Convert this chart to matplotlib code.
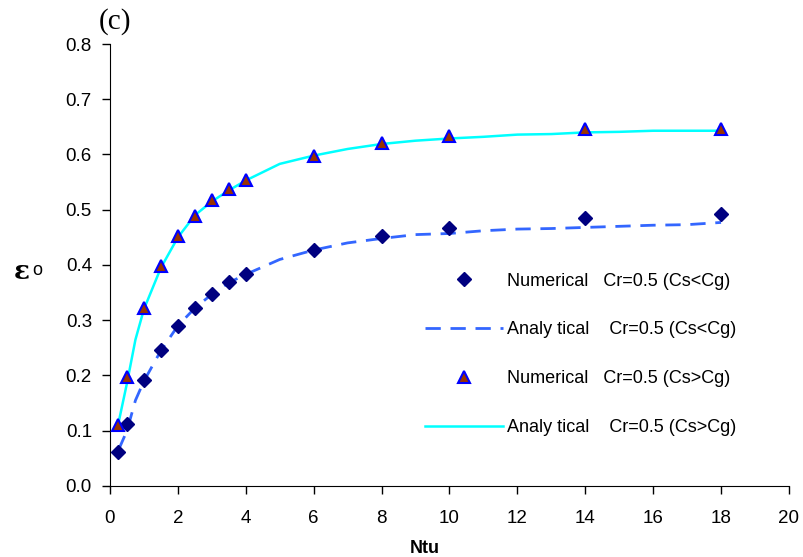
import matplotlib
matplotlib.use("Agg")
import matplotlib.pyplot as plt

# numerical results (markers)
ntu_num = [0.25, 0.5, 1, 1.5, 2, 2.5, 3, 3.5, 4, 6, 8, 10, 14, 18]
eps_num_lt = [0.062, 0.112, 0.192, 0.246, 0.290, 0.322, 0.347, 0.370, 0.384,
              0.428, 0.452, 0.467, 0.485, 0.492]
eps_num_gt = [0.111, 0.198, 0.322, 0.398, 0.452, 0.488, 0.518, 0.538, 0.553,
              0.598, 0.621, 0.633, 0.647, 0.647]

# analytical curves
ntu_an = [0.25, 0.5, 0.75, 1, 1.5, 2, 2.5, 3, 3.5, 4, 5, 6, 7, 8, 9, 10,
          11, 12, 13, 14, 15, 16, 17, 18]
eps_an_lt = [0.065, 0.100, 0.155, 0.190, 0.245, 0.290, 0.322, 0.347, 0.368,
             0.383, 0.410, 0.427, 0.440, 0.448, 0.455, 0.457, 0.462, 0.465,
             0.466, 0.468, 0.470, 0.472, 0.473, 0.477]
eps_an_gt = [0.114, 0.186, 0.265, 0.320, 0.395, 0.450, 0.490, 0.515, 0.535,
             0.553, 0.583, 0.598, 0.610, 0.619, 0.625, 0.629, 0.632, 0.636,
             0.637, 0.640, 0.641, 0.643, 0.643, 0.643]

x_ticks = list(range(0, 21, 2))
y_ticks = [0.0, 0.1, 0.2, 0.3, 0.4, 0.5, 0.6, 0.7, 0.8]

plt.rcParams["font.family"] = ["Liberation Sans", "DejaVu Sans"]

fig = plt.figure(figsize=(8.04, 5.57), dpi=100)
ax = fig.add_axes([0.1368, 0.1275, 0.8445, 0.7935])

ax.plot(ntu_num, eps_num_lt, linestyle="none", marker="D", markersize=7.5,
        color="#000080", label="Numerical   Cr=0.5 (Cs<Cg)", zorder=4)
ax.plot(ntu_an, eps_an_lt, color="#3366FF", linewidth=2, dashes=(5.5, 3.5),
        label="Analy tical    Cr=0.5 (Cs<Cg)", zorder=3)
ax.plot(ntu_num, eps_num_gt, linestyle="none", marker="^", markersize=9,
        markerfacecolor="#993300", markeredgecolor="#0000FF",
        markeredgewidth=1.5, label="Numerical   Cr=0.5 (Cs>Cg)", zorder=4)
ax.plot(ntu_an, eps_an_gt, color="#00FFFF", linewidth=1.8,
        label="Analy tical    Cr=0.5 (Cs>Cg)", zorder=3)

ax.set_xlim(0, 20)
ax.set_ylim(0, 0.8)
ax.set_xticks(x_ticks)
ax.set_yticks(y_ticks)
ax.set_yticklabels([f"{v:.1f}" for v in y_ticks])
ax.tick_params(direction="out", length=6, width=1, labelsize=13.5)
ax.tick_params(axis="x", pad=11)
ax.tick_params(axis="y", pad=7)
for side in ("top", "right"):
    ax.spines[side].set_visible(False)

# axis titles
fig.text(0.5286, 0.016, "Ntu", fontsize=13, fontweight="bold",
         ha="center", va="center")
fig.text(0.017, 0.513, "\u03b5", fontsize=19, fontweight="bold",
         family="DejaVu Serif", ha="left", va="center")
fig.text(0.040, 0.514, "o", fontsize=13, ha="left", va="center")
fig.text(0.123, 0.962, "(c)", fontsize=21, family="Liberation Serif",
         ha="left", va="center")

ax.legend(loc="upper left", bbox_to_anchor=(0.4639, 0.483), frameon=False,
          fontsize=13, handlelength=4.32, handletextpad=0.22,
          labelspacing=1.77, borderpad=0, borderaxespad=0)

fig.savefig("out.png", dpi=100)
